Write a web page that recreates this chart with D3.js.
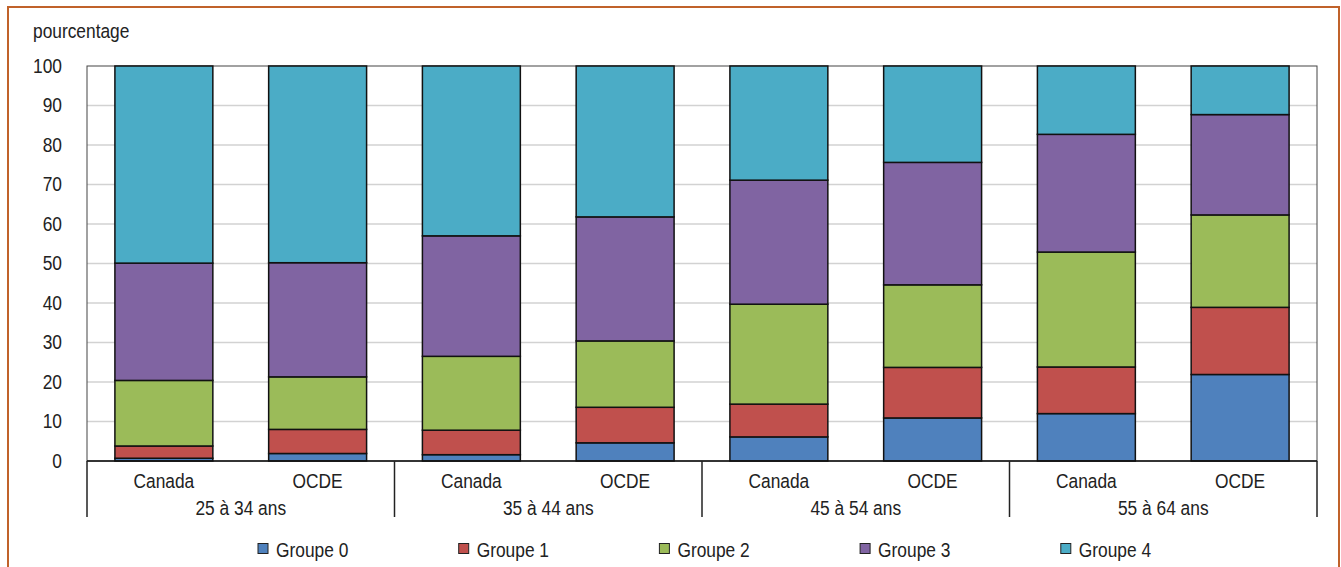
<!DOCTYPE html>
<html>
<head>
<meta charset="utf-8">
<script src="https://cdn.jsdelivr.net/npm/d3@7"></script>
<style>
  html, body { margin: 0; padding: 0; background: #fff; }
  svg { display: block; }
  text { font-family: "Liberation Sans Narrow", "Arial Narrow", "Liberation Sans", Arial, sans-serif; fill: #222; }
</style>
</head>
<body>
<svg id="chart" width="1341" height="567"></svg>
<script>
const ageGroups = ["25 à 34 ans", "35 à 44 ans", "45 à 54 ans", "55 à 64 ans"];
const regions = ["Canada", "OCDE"];
const seriesNames = ["Groupe 0", "Groupe 1", "Groupe 2", "Groupe 3", "Groupe 4"];
const colors = ["#4F81BD", "#C0504D", "#9BBB59", "#8064A2", "#4BACC6"];
// values per bar in order: Canada 25-34, OCDE 25-34, Canada 35-44, OCDE 35-44, ...
const groupe0 = [0.7, 1.9, 1.6, 4.6, 6.1, 10.9, 12.0, 21.9];
const groupe1 = [3.1, 6.1, 6.2, 9.0, 8.3, 12.8, 11.8, 17.0];
const groupe2 = [16.6, 13.3, 18.7, 16.8, 25.3, 20.9, 29.1, 23.4];
const groupe3 = [29.7, 28.9, 30.5, 31.4, 31.4, 31.0, 29.8, 25.4];
const groupe4 = [49.9, 49.8, 43.0, 38.2, 28.9, 24.4, 17.3, 12.3];
const yTicks = [0, 10, 20, 30, 40, 50, 60, 70, 80, 90, 100];
const yTitle = "pourcentage";

const seriesArrays = [groupe0, groupe1, groupe2, groupe3, groupe4];
const rows = [];
ageGroups.forEach((age, ai) => {
  regions.forEach((reg, ri) => {
    const idx = ai * regions.length + ri;
    const row = { age, region: reg };
    seriesNames.forEach((s, si) => { row[s] = seriesArrays[si][idx]; });
    rows.push(row);
  });
});

const FS = "19.5px";
const SX = 0.89; // horizontal condensation to mimic a narrow font

const svg = d3.select("#chart");
const pLeft = 87, pRight = 1317, pTop = 66, pBottom = 461;

function label(x, yy, txt, anchor) {
  return svg.append("text")
    .attr("transform", `translate(${x},${yy}) scale(${SX},1)`)
    .attr("text-anchor", anchor || "start")
    .style("font-size", FS)
    .text(txt);
}

// outer orange frame
svg.append("rect").attr("x", 8).attr("y", 7).attr("width", 1331).attr("height", 600)
  .attr("fill", "none").attr("stroke", "#C0622A").attr("stroke-width", 2);

const x0 = d3.scaleBand().domain(ageGroups).range([pLeft, pRight]).padding(0);
const x1 = d3.scaleBand().domain(regions).range([0, x0.bandwidth()]).paddingInner(0.363).paddingOuter(0.1815);
const y = d3.scaleLinear().domain([0, 100]).range([pBottom, pTop]);

// gridlines
svg.append("g").selectAll("line").data(yTicks.filter(d => d > 0 && d < 100)).join("line")
  .attr("x1", pLeft).attr("x2", pRight).attr("y1", d => y(d)).attr("y2", d => y(d))
  .attr("stroke", "#d2d2d2").attr("stroke-width", 1.5);

// plot border
svg.append("rect").attr("x", pLeft).attr("y", pTop).attr("width", pRight - pLeft).attr("height", pBottom - pTop)
  .attr("fill", "none").attr("stroke", "#444").attr("stroke-width", 1);

// y axis labels
const yAxis = d3.axisLeft(y).tickValues(yTicks).tickSize(0).tickPadding(25 / SX);
const yg = svg.append("g").attr("transform", `translate(${pLeft},0)`).call(yAxis);
yg.select(".domain").remove();
yg.selectAll("text")
  .attr("transform", `scale(${SX},1)`)
  .attr("fill", "#222")
  .style("font-size", FS)
  .style("font-family", '"Liberation Sans Narrow", "Liberation Sans", Arial, sans-serif');

label(33, 38, yTitle, "start");

// bars
const stack = d3.stack().keys(seriesNames);
const stacked = stack(rows);
stacked.forEach((layer, si) => {
  svg.append("g").selectAll("rect").data(layer).join("rect")
    .attr("x", d => x0(d.data.age) + x1(d.data.region))
    .attr("width", x1.bandwidth())
    .attr("y", d => y(d[1]))
    .attr("height", d => y(d[0]) - y(d[1]))
    .attr("fill", colors[si])
    .attr("stroke", "#111").attr("stroke-width", 1.5);
});

// x axis line
svg.append("line").attr("x1", pLeft).attr("x2", pRight).attr("y1", pBottom).attr("y2", pBottom)
  .attr("stroke", "#111").attr("stroke-width", 1.5);

// group separators
const seps = ageGroups.map(a => x0(a)).concat([pRight]);
svg.append("g").selectAll("line").data(seps).join("line")
  .attr("x1", d => d).attr("x2", d => d).attr("y1", pBottom).attr("y2", 517)
  .attr("stroke", "#222").attr("stroke-width", 1.5);

// category labels
ageGroups.forEach(age => {
  regions.forEach(reg => {
    label(x0(age) + x1(reg) + x1.bandwidth() / 2, 488, reg, "middle");
  });
  label(x0(age) + x0.bandwidth() / 2, 515, age, "middle");
});

// legend
seriesNames.forEach((s, i) => {
  const lx = 258 + i * 200.7;
  svg.append("rect").attr("x", lx).attr("y", 543.5).attr("width", 10).attr("height", 10)
    .attr("fill", colors[i]).attr("stroke", "#222").attr("stroke-width", 1);
  label(lx + 18, 557, s, "start");
});
</script>
</body>
</html>
